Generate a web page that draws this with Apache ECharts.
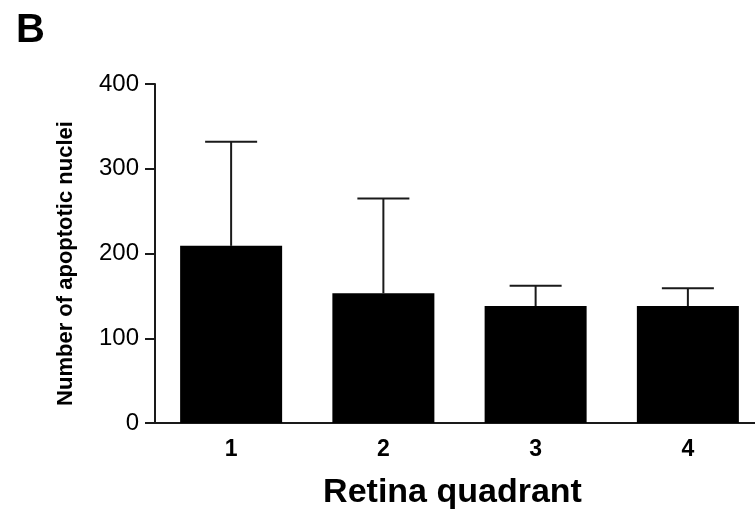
<!DOCTYPE html>
<html>
<head>
<meta charset="utf-8">
<script src="https://cdn.jsdelivr.net/npm/echarts@6/dist/echarts.min.js"></script>
<style>
  html, body { margin: 0; padding: 0; background: #fff; }
  #chart { width: 755px; height: 519px; }
</style>
</head>
<body>
<div id="chart"></div>
<script>
// retina quadrants and apoptotic nuclei counts (mean, mean + SD)
const quadrants = ["1", "2", "3", "4"];
const means = [209, 153, 138, 138];
const upperErr = [332, 265, 162, 159];
const yTicks = [0, 100, 200, 300, 400];

const font = "Liberation Sans, Arial, sans-serif";
const axisColor = "#1a1a1a";

let chart = echarts.init(document.getElementById("chart"));

let option = {
  animation: false,
  title: {
    text: "B",
    left: 11,
    top: 6,
    textStyle: { fontFamily: font, fontSize: 40, fontWeight: "bold", color: "#000" },
  },
  grid: {
    left: 155,
    top: 84,
    bottom: 96,
    width: 609, // plot runs a little past the right edge
    outerBoundsMode: "none",
  },
  xAxis: {
    type: "category",
    data: quadrants,
    name: "Retina quadrant",
    nameLocation: "middle",
    nameGap: 53,
    nameTextStyle: { fontFamily: font, fontSize: 34, fontWeight: "bold", color: "#000", padding: [0, 14, 0, 0] },
    axisLine: { lineStyle: { color: axisColor, width: 2 } },
    axisTick: { show: false },
    axisLabel: { fontFamily: font, fontSize: 23, fontWeight: "bold", color: "#000", margin: 15 },
  },
  yAxis: {
    type: "value",
    min: yTicks[0],
    max: yTicks[yTicks.length - 1],
    interval: 100,
    name: "Number of apoptotic nuclei",
    nameLocation: "middle",
    nameGap: 78,
    nameTextStyle: { fontFamily: font, fontSize: 22, fontWeight: "bold", color: "#000", padding: [0, 20, 0, 0] },
    axisLine: { show: true, lineStyle: { color: axisColor, width: 2 } },
    axisTick: { show: true, length: 10, lineStyle: { color: axisColor, width: 2 } },
    axisLabel: { fontFamily: font, fontSize: 24, color: "#000", margin: 16 },
    splitLine: { show: false },
  },
  series: [
    {
      type: "bar",
      data: means,
      barWidth: "67%",
      itemStyle: { color: "#000" },
      z: 2,
    },
    {
      // upper error whiskers
      type: "custom",
      data: quadrants.map((q, i) => [i, means[i], upperErr[i]]),
      renderItem: function (params, api) {
        let base = api.coord([api.value(0), api.value(1)]);
        let top = api.coord([api.value(0), api.value(2)]);
        let half = 26;
        let style = { stroke: axisColor, lineWidth: 2 };
        return {
          type: "group",
          children: [
            { type: "line", shape: { x1: base[0], y1: base[1], x2: top[0], y2: top[1] }, style: style },
            { type: "line", shape: { x1: top[0] - half, y1: top[1], x2: top[0] + half, y2: top[1] }, style: style },
          ],
        };
      },
      z: 3,
    },
  ],
};

chart.setOption(option);
</script>
</body>
</html>
